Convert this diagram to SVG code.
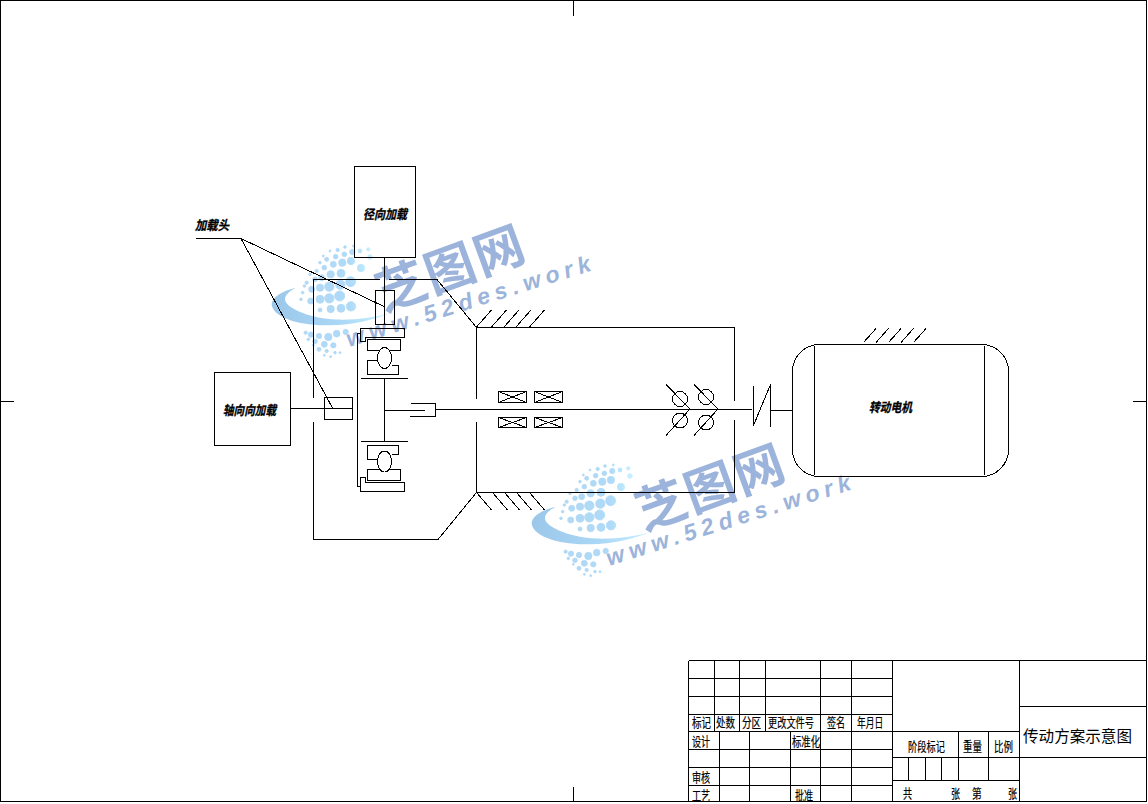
<svg xmlns="http://www.w3.org/2000/svg" xmlns:xlink="http://www.w3.org/1999/xlink" width="1148" height="804" viewBox="0 0 1148 804">
<style>
.l{fill:none;stroke:#000;stroke-width:1;shape-rendering:crispEdges}
.w{fill:#fff;stroke:#000;stroke-width:1;shape-rendering:crispEdges}
.t{font-family:"Noto Sans CJK SC","Noto Sans",sans-serif;font-size:13px;fill:#000;stroke:#000;stroke-width:.2}
.b{font-family:"Noto Sans CJK SC","Noto Sans",sans-serif;font-size:16px;fill:#000}
.i{font-family:"Noto Sans CJK SC","Noto Sans",sans-serif;font-size:13px;font-style:italic;font-weight:700;fill:#000;stroke:#000;stroke-width:.3}
</style>
<defs>
<linearGradient id="sw" gradientUnits="userSpaceOnUse" x1="20" y1="0" x2="375" y2="0"><stop offset="0" stop-color="#9bc8ea"/><stop offset=".6" stop-color="#abd8f6"/><stop offset="1" stop-color="#c8f2ff"/></linearGradient>
<linearGradient id="dt" gradientUnits="userSpaceOnUse" x1="100" y1="0" x2="320" y2="0"><stop offset="0" stop-color="#b3d8f4"/><stop offset=".7" stop-color="#aedaf8"/><stop offset="1" stop-color="#c4f0ff"/></linearGradient>
<g id="wm">
<g transform="translate(525 455) scale(.3333)">
<path fill="url(#sw)" d="M92,155 C50,165 20,185 20,205 C22,240 90,268 180,268 C260,270 330,250 375,232 C330,245 260,255 200,250 C130,245 60,215 60,190 C60,175 75,165 92,155Z"/>
<g fill="url(#dt)" stroke="url(#dt)" stroke-width="2.500">
<circle cx="258" cy="211" r="14"/><circle cx="224" cy="180" r="15"/><circle cx="228" cy="217" r="12"/><circle cx="257" cy="137" r="15"/><circle cx="226" cy="146" r="14"/><circle cx="193" cy="152" r="14"/><circle cx="165" cy="155" r="11"/><circle cx="193" cy="187" r="14"/><circle cx="165" cy="190" r="12"/><circle cx="140" cy="160" r="9"/><circle cx="137" cy="195" r="9"/><circle cx="197" cy="219" r="11"/><circle cx="165" cy="222" r="6"/><circle cx="288" cy="96" r="11"/><circle cx="315" cy="63" r="7"/><circle cx="310" cy="40" r="5"/><circle cx="285" cy="45" r="6"/><circle cx="258" cy="75" r="11"/><circle cx="262" cy="48" r="8"/><circle cx="232" cy="80" r="11"/><circle cx="238" cy="55" r="7"/><circle cx="228" cy="112" r="12"/><circle cx="197" cy="115" r="11"/><circle cx="170" cy="125" r="9"/><circle cx="205" cy="85" r="9"/><circle cx="178" cy="95" r="7"/><circle cx="212" cy="62" r="7"/><circle cx="185" cy="70" r="6"/><circle cx="218" cy="42" r="5"/><circle cx="240" cy="33" r="4"/><circle cx="265" cy="30" r="3"/><circle cx="150" cy="130" r="7"/><circle cx="125" cy="140" r="5"/><circle cx="155" cy="105" r="5"/><circle cx="165" cy="80" r="4"/><circle cx="135" cy="115" r="4"/><circle cx="113" cy="170" r="4"/><circle cx="118" cy="150" r="4"/><circle cx="108" cy="190" r="4"/><circle cx="195" cy="45" r="3"/><circle cx="175" cy="60" r="3"/>
<circle cx="122" cy="290" r="5"/><circle cx="138" cy="296" r="8"/><circle cx="162" cy="300" r="8"/><circle cx="190" cy="303" r="11"/><circle cx="215" cy="293" r="10"/><circle cx="242" cy="288" r="8"/><circle cx="130" cy="310" r="4"/><circle cx="150" cy="316" r="7"/><circle cx="178" cy="325" r="9"/><circle cx="205" cy="328" r="8"/><circle cx="145" cy="328" r="3"/><circle cx="162" cy="340" r="6"/><circle cx="185" cy="345" r="5"/><circle cx="210" cy="350" r="4"/><circle cx="178" cy="358" r="3"/><circle cx="197" cy="362" r="3"/><circle cx="225" cy="350" r="3"/>
</g>
</g>
<text transform="translate(717 504) rotate(-20)" text-anchor="middle" font-family="Noto Sans CJK SC,sans-serif" font-weight="700" font-size="50" letter-spacing="2" fill="#9cb4db">芝图网</text>
<text transform="translate(609 566) rotate(-17.5)" font-family="Liberation Sans,sans-serif" font-weight="700" font-style="italic" font-size="23" textLength="255" lengthAdjust="spacing" fill="#9cb4db">www.52des.work</text>
</g>
</defs>
<rect width="1148" height="804" fill="#fff"/>
<g id="watermarks">
<use href="#wm"/>
<use href="#wm" transform="translate(-260 -219)"/>
</g>
<g id="sheet-frame">
<rect class="l" x="0.5" y="0.5" width="1146" height="801"/>
<path class="l" d="M573.500 0V16M573.500 787V802M0 401.500H14M1133 401.500H1147"/>
</g>
<g id="connectors">
<path class="l" d="M196 238.500H241L385 307M241 238.500L332.500 408"/>
<path class="l" d="M384.500 257.500V324.500"/>
<path class="l" d="M380 279.500H313.500V398M389 279.500H437L476.500 327.500M313.500 421.500V539.500H438L476.500 492.500"/>
<path class="l" d="M290.500 408.500H352.500"/>
<path class="l" d="M435.500 409.500H752M770.500 410.500H792.500"/>
<path class="l" d="M476.500 327L491.500 310M491.500 327L506.500 310M504 327L519 310M516 327L531 310M529.500 327L544.500 310M476.500 492.500L491.500 510M492.500 492.500L507.500 510M504.500 492.500L519.500 510M516.500 492.500L531.500 510M529.500 492.500L544.500 510"/>
<path class="l" d="M863.500 342.500L876 328.500M876 342.500L888.500 328.500M888.500 342.500L901 328.500M901 342.500L913.500 328.500M913.500 342.500L926 328.500"/>
</g>
<g id="radial-load"><rect class="l" x="354.500" y="166.500" width="61" height="91"/><text class="i" x="363" y="219" textLength="44" lengthAdjust="spacingAndGlyphs">径向加载</text></g>
<g id="load-head-label"><text class="i" x="195" y="230" textLength="34" lengthAdjust="spacingAndGlyphs">加载头</text></g>
<g id="load-head-radial"><rect class="l" x="375.500" y="290.500" width="19" height="34"/></g>
<g id="axial-load"><rect class="l" x="214.500" y="372.500" width="76" height="73"/><text class="i" x="223" y="415" textLength="53" lengthAdjust="spacingAndGlyphs">轴向向加载</text></g>
<g id="load-head-axial"><rect class="l" x="324.500" y="397.500" width="28" height="22"/></g>
<g id="bearing-assembly">
<path class="l" d="M360.500 333.500H357.500V486.500H360.500"/>
<path class="l" d="M360.500 328.500H404.500V337.500H365.500V341.500H360.500Z"/>
<path class="l" d="M360.500 477.500H365.500V482.500H404.500V491.500H360.500Z"/>
<path class="l" d="M361 378.500H408M361 441.500H408M384.500 378.500V441.500M384.500 410.500H425"/>
<path class="l" d="M411 403.500H435.500V416.500H410"/>
<path class="l" d="M367.500 339.500H400.500V350.500H367.500ZM377.500 360.500H367.500V374.500H398.500V365.500H391.500"/>
<ellipse class="w" cx="384.500" cy="358" rx="7" ry="10.500"/>
<path class="l" d="M377.500 459.500H367.500V445.500H398.500V454.500H391.500M367.500 469.500H400.500V480.500H367.500Z"/>
<ellipse class="w" cx="384.500" cy="461.500" rx="7" ry="10.500"/>
</g>
<g id="gearbox">
<path class="l" d="M476.500 398.500V327.500H734.500V400.500M476.500 421.500V492.500H734.500V419.500"/>
</g>
<g id="needle-bearings">
<path class="l" d="M498.500 391.500H526.500V402.500H498.500ZM498.500 391.500L526.500 402.500M498.500 402.500L526.500 391.500M534.500 391.500H562.500V402.500H534.500ZM534.500 391.500L562.500 402.500M534.500 402.500L562.500 391.500"/>
<path class="l" d="M498.500 417.500H526.500V427.500H498.500ZM498.500 417.500L526.500 427.500M498.500 427.500L526.500 417.500M534.500 417.500H562.500V427.500H534.500ZM534.500 417.500L562.500 427.500M534.500 427.500L562.500 417.500"/>
</g>
<g id="ball-bearings">
<circle class="l" cx="680" cy="399" r="7.500"/><circle class="l" cx="680" cy="420.500" r="7.500"/><circle class="l" cx="706" cy="397" r="7.500"/><circle class="l" cx="706" cy="422.500" r="7.500"/>
<path class="l" d="M666 384.500L690 409L666 435.500M694 384.500L718 409L694 435.500"/>
</g>
<g id="coupling"><path class="l" d="M753.500 386V425.500L770.500 384.500V426.500"/></g>
<g id="motor">
<rect class="l" x="792.500" y="344.500" width="216" height="132" rx="27" ry="27"/>
<path class="l" d="M814.500 346V474.500M984.500 346V474.500"/>
<text class="i" x="869" y="412" textLength="43" lengthAdjust="spacingAndGlyphs">转动电机</text>
</g>
<g id="title-block">
<path class="l" d="M688.500 660.500H1146.500M688.500 678.500H892.500M688.500 696.500H892.500M688.500 714.500H892.500M688.500 731.500H1019.500M688.500 749.500H892.500M688.500 767.500H892.500M688.500 785.500H892.500M892.500 757.500H1146.500M892.500 780.500H1019.500M1019.500 706.500H1146.500"/>
<path class="l" d="M688.500 660.500V802M714.500 660.500V731.500M739.500 660.500V731.500M765.500 660.500V731.500M820.500 660.500V802M851.500 660.500V802M892.500 660.500V802M719.500 731.500V802M749.500 731.500V802M790.500 731.500V802M1019.500 660.500V802M958.500 731.500V780.500M988.500 731.500V780.500M908.500 757.500V780.500M925.500 757.500V780.500M941.500 757.500V780.500"/>
<g class="t">
<text transform="translate(692 727) scale(.73 1)">标记</text>
<text transform="translate(716 727) scale(.73 1)">处数</text>
<text transform="translate(742 727) scale(.73 1)">分区</text>
<text transform="translate(768 727) scale(.708 1)">更改文件号</text>
<text transform="translate(827 727) scale(.7 1)">签名</text>
<text transform="translate(857 727) scale(.67 1)">年月日</text>
<text transform="translate(692 746) scale(.7 1)">设计</text>
<text transform="translate(792 746) scale(.72 1)">标准化</text>
<text transform="translate(692 782) scale(.7 1)">审核</text>
<text transform="translate(692 800) scale(.7 1)">工艺</text>
<text transform="translate(795 800) scale(.7 1)">批准</text>
<text transform="translate(908 751) scale(.71 1)">阶段标记</text>
<text transform="translate(963 751) scale(.73 1)">重量</text>
<text transform="translate(994 751) scale(.73 1)">比例</text>
<text transform="translate(903 798) scale(.7 1)">共</text>
<text transform="translate(951 798) scale(.7 1)">张</text>
<text transform="translate(972 798) scale(.75 1)">第</text>
<text transform="translate(1008 798) scale(.7 1)">张</text>
</g>
<text class="b" x="1023" y="742" textLength="109" lengthAdjust="spacingAndGlyphs">传动方案示意图</text>
</g>
</svg>
